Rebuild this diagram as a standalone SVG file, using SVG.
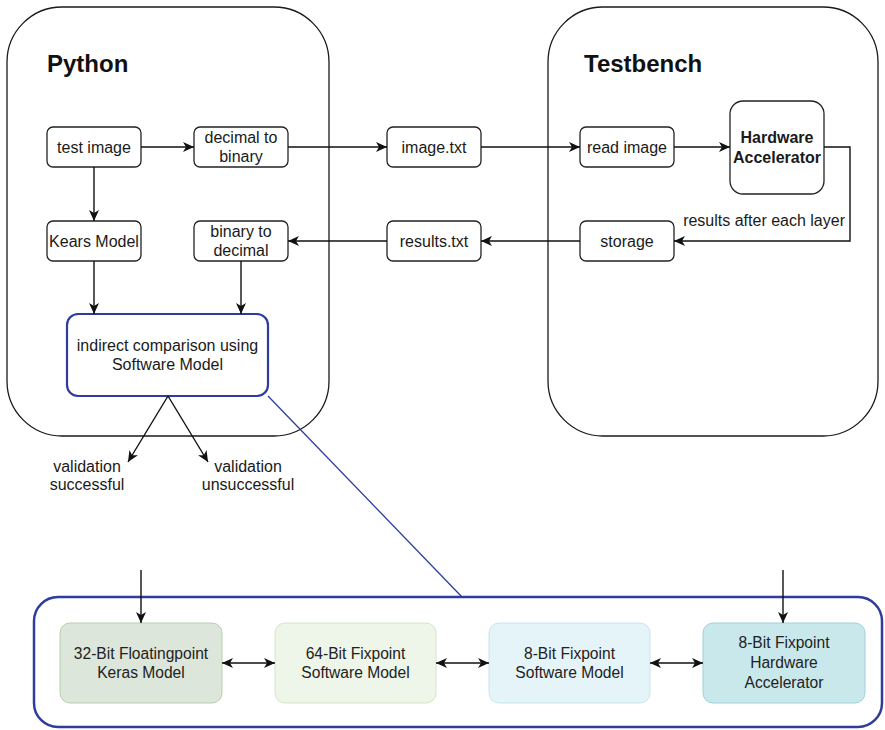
<svg xmlns="http://www.w3.org/2000/svg" width="885" height="730" viewBox="0 0 885 730">
<style>
.container{fill:#ffffff;stroke:#1a1a1a;stroke-width:1.3}
.node{fill:#ffffff;stroke:#222222;stroke-width:1.3}
.t{font-family:"Liberation Sans",Arial,sans-serif;font-size:16px;fill:#1a1a1a;text-anchor:middle}
.title{font-family:"Liberation Sans",Arial,sans-serif;font-size:24px;font-weight:bold;fill:#111111}
.b{font-weight:bold}
.bt{font-family:"Liberation Sans",Arial,sans-serif;font-size:15.6px;fill:#222222;text-anchor:middle}
.edge{fill:none;stroke:#111111;stroke-width:1.4}
.blue{fill:none;stroke:#2e3c9e;stroke-width:1.3}
</style>
<defs>
<marker id="ah" markerUnits="userSpaceOnUse" markerWidth="13" markerHeight="13" viewBox="0 0 13 13" refX="12" refY="6.5" orient="auto-start-reverse">
<path d="M1,1.5 L12,6.5 L1,11.5 L4,6.5 z" fill="#111111"/>
</marker>
</defs>

<g id="python-container">
<rect class="container" x="7" y="7" width="322" height="429" rx="55"/>
<text class="title" x="47" y="72">Python</text>
</g>
<g id="testbench-container">
<rect class="container" x="548" y="7" width="330" height="429" rx="55"/>
<text class="title" x="584" y="72">Testbench</text>
</g>

<g id="test-image">
<rect class="node" x="47" y="127" width="94" height="40" rx="6"/>
<text class="t" x="94" y="153">test image</text>
</g>
<g id="decimal-to-binary">
<rect class="node" x="194" y="127" width="94" height="40" rx="6"/>
<text class="t" x="241" y="143">decimal to</text>
<text class="t" x="241" y="162">binary</text>
</g>
<g id="image-txt">
<rect class="node" x="387" y="127" width="94" height="40" rx="6"/>
<text class="t" x="434" y="153">image.txt</text>
</g>
<g id="read-image">
<rect class="node" x="580" y="127" width="94" height="40" rx="6"/>
<text class="t" x="627" y="153">read image</text>
</g>
<g id="hardware-accelerator">
<rect class="node" x="730" y="101" width="94" height="93" rx="13"/>
<text class="t b" x="777" y="143">Hardware</text>
<text class="t b" x="777" y="163">Accelerator</text>
</g>
<g id="kears-model">
<rect class="node" x="47" y="221" width="94" height="40" rx="6"/>
<text class="t" x="94" y="247">Kears Model</text>
</g>
<g id="binary-to-decimal">
<rect class="node" x="194" y="221" width="94" height="40" rx="6"/>
<text class="t" x="241" y="237">binary to</text>
<text class="t" x="241" y="256">decimal</text>
</g>
<g id="results-txt">
<rect class="node" x="387" y="221" width="94" height="40" rx="6"/>
<text class="t" x="434" y="247">results.txt</text>
</g>
<g id="storage">
<rect class="node" x="580" y="221" width="94" height="40" rx="6"/>
<text class="t" x="627" y="247">storage</text>
</g>
<g id="indirect-comparison">
<rect x="67" y="314" width="201" height="82" rx="11" fill="#ffffff" stroke="#2e3c9e" stroke-width="2.2"/>
<text class="t" x="167.5" y="351">indirect comparison using</text>
<text class="t" x="167.5" y="370">Software Model</text>
</g>
<g id="validation-successful">
<text class="t" x="87" y="472">validation</text>
<text class="t" x="87" y="490">successful</text>
</g>
<g id="validation-unsuccessful">
<text class="t" x="248" y="472">validation</text>
<text class="t" x="248" y="490">unsuccessful</text>
</g>

<g id="detail-container">
<rect x="34" y="597" width="848" height="130" rx="24" fill="#ffffff" stroke="#2e3c9e" stroke-width="2.5"/>
</g>
<g id="keras-32bit">
<rect x="60" y="623" width="162" height="80" rx="10" fill="#dde6da" stroke="#b7cfae" stroke-width="1"/>
<text class="bt" x="141" y="659">32-Bit Floatingpoint</text>
<text class="bt" x="141" y="678">Keras Model</text>
</g>
<g id="software-64bit">
<rect x="275" y="623" width="161" height="80" rx="10" fill="#eef5e9" stroke="#d3e6c7" stroke-width="1"/>
<text class="bt" x="355.5" y="659">64-Bit Fixpoint</text>
<text class="bt" x="355.5" y="678">Software Model</text>
</g>
<g id="software-8bit">
<rect x="489" y="623" width="161" height="80" rx="10" fill="#e5f4f8" stroke="#c6e5ee" stroke-width="1"/>
<text class="bt" x="569.5" y="659">8-Bit Fixpoint</text>
<text class="bt" x="569.5" y="678">Software Model</text>
</g>
<g id="hardware-8bit">
<rect x="703" y="623" width="162" height="80" rx="10" fill="#c9e8ec" stroke="#9fd1d9" stroke-width="1"/>
<text class="bt" x="784" y="648">8-Bit Fixpoint</text>
<text class="bt" x="784" y="668">Hardware</text>
<text class="bt" x="784" y="688">Accelerator</text>
</g>

<g id="connectors">
<line class="edge" x1="141" y1="147" x2="194" y2="147" marker-end="url(#ah)"/>
<line class="edge" x1="288" y1="147" x2="387" y2="147" marker-end="url(#ah)"/>
<line class="edge" x1="481" y1="147" x2="580" y2="147" marker-end="url(#ah)"/>
<line class="edge" x1="674" y1="147" x2="730" y2="147" marker-end="url(#ah)"/>
<polyline class="edge" points="824,147 850,147 850,241 674,241" marker-end="url(#ah)"/>
<text class="t" x="845" y="226" style="text-anchor:end">results after each layer</text>
<line class="edge" x1="580" y1="241" x2="481" y2="241" marker-end="url(#ah)"/>
<line class="edge" x1="387" y1="241" x2="288" y2="241" marker-end="url(#ah)"/>
<line class="edge" x1="94" y1="167" x2="94" y2="221" marker-end="url(#ah)"/>
<line class="edge" x1="94" y1="261" x2="94" y2="314" marker-end="url(#ah)"/>
<line class="edge" x1="241" y1="261" x2="241" y2="314" marker-end="url(#ah)"/>
<line class="edge" x1="168" y1="396" x2="128" y2="462" marker-end="url(#ah)"/>
<line class="edge" x1="168" y1="396" x2="208" y2="462" marker-end="url(#ah)"/>
<line class="blue" x1="268" y1="396" x2="462" y2="597"/>
<line class="edge" x1="141" y1="570" x2="141" y2="623" marker-end="url(#ah)"/>
<line class="edge" x1="783" y1="570" x2="783" y2="623" marker-end="url(#ah)"/>
<line class="edge" x1="222" y1="663" x2="275" y2="663" marker-start="url(#ah)" marker-end="url(#ah)"/>
<line class="edge" x1="436" y1="663" x2="489" y2="663" marker-start="url(#ah)" marker-end="url(#ah)"/>
<line class="edge" x1="650" y1="663" x2="703" y2="663" marker-start="url(#ah)" marker-end="url(#ah)"/>
</g>
</svg>
